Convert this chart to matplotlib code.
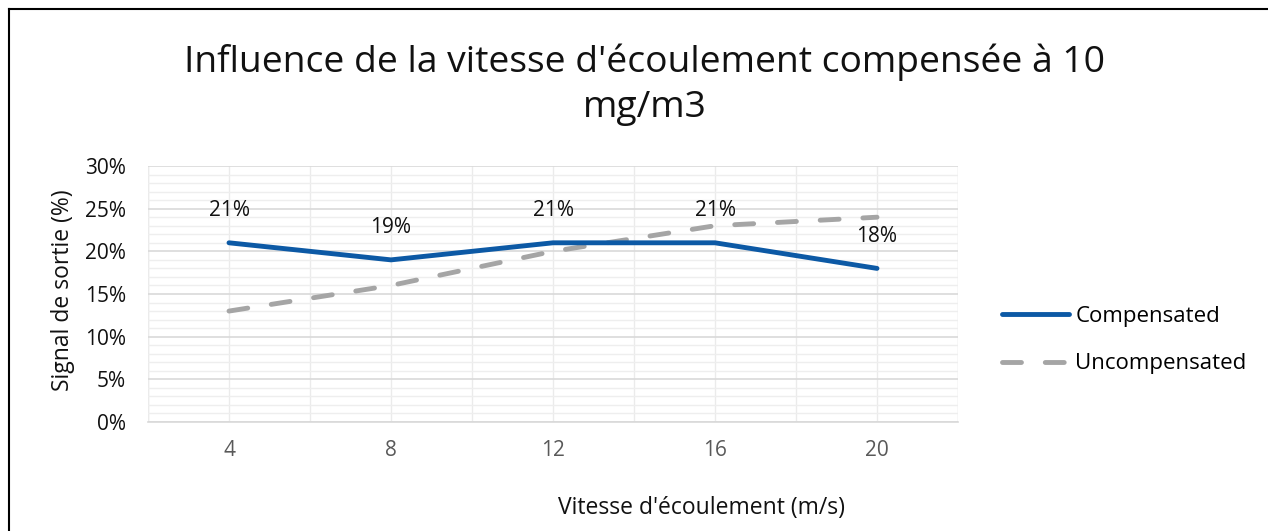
import numpy as np
import matplotlib.pyplot as plt
from matplotlib.lines import Line2D
from matplotlib.ticker import MultipleLocator, FuncFormatter

plt.rcParams['font.family'] = ['Open Sans', 'DejaVu Sans']

categories = ["4", "8", "12", "16", "20"]
compensated = [21, 19, 21, 21, 18]
uncompensated = [13, 16, 20, 23, 24]

fig = plt.figure(figsize=(12.68, 5.31), dpi=100)
ax = fig.add_axes([148/1268, 109/531, 810/1268, 256/531])

blue = "#0C59A5"
grey = "#A5A5A5"
dash = (3.9, 4.9)
lw = 3.5

x = np.arange(len(categories))
ax.plot(x, uncompensated, color=grey, lw=lw, dashes=dash,
        solid_capstyle="round", dash_capstyle="round", zorder=3)
ax.plot(x, compensated, color=blue, lw=lw, solid_capstyle="round", zorder=4)
for xi, v in zip(x, compensated):
    ax.annotate(f"{v}%", (xi, v), xytext=(0, 23), textcoords="offset points",
                ha="center", va="center", fontsize=15, color="#111111")

ax.set_xlim(-0.5, len(categories) - 0.5)
ax.set_ylim(0, 30)
ax.set_xticks(x)
ax.set_xticklabels(categories, color="#595959", fontsize=15)
ax.set_xticks(np.arange(-0.5, len(categories), 1.0), minor=True)
ax.yaxis.set_major_locator(MultipleLocator(5))
ax.yaxis.set_minor_locator(MultipleLocator(1))
ax.yaxis.set_major_formatter(FuncFormatter(lambda v, p: f"{v:.0f}%"))
ax.tick_params(axis="y", labelsize=15, colors="#111111", length=0, pad=16)
ax.tick_params(axis="x", length=0, pad=13)
ax.tick_params(which="minor", length=0)

ax.grid(True, which="major", axis="y", color="#D9D9D9", lw=1.2)
ax.grid(True, which="minor", axis="y", color="#EEEEEE", lw=1.0)
ax.grid(True, which="both", axis="x", color="#EBEBEB", lw=1.0)
ax.set_axisbelow(True)
for s in ["top", "right", "left"]:
    ax.spines[s].set_visible(False)
ax.spines["bottom"].set_color("#D9D9D9")
ax.spines["bottom"].set_linewidth(1.2)
ax.axvline(-0.5, color="#EBEBEB", lw=1.0, zorder=0)
ax.axvline(len(categories) - 0.5, color="#EBEBEB", lw=1.0, zorder=0)

fig.text(702/1268, 1 - 508/531, "Vitesse d'écoulement (m/s)", ha="center", va="center",
         fontsize=16.5, color="#111111")
fig.text(63/1268, 1 - 290/531, "Signal de sortie (%)", ha="center", va="center",
         rotation=90, fontsize=16.5, color="#111111")

fig.text(645/1268, 1 - 85/531, "Influence de la vitesse d'écoulement compensée à 10\nmg/m3",
         ha="center", va="center", fontsize=26.8, color="#111111", linespacing=1.32)

handles = [Line2D([0], [0], color=blue, lw=lw, solid_capstyle="round"),
           Line2D([0], [0], color=grey, lw=lw, dashes=dash, dash_capstyle="round")]
fig.legend(handles, ["Compensated", "Uncompensated"], loc="center left",
           bbox_to_anchor=(982/1268, 1 - 340/531), frameon=False, fontsize=16,
           handlelength=3.0, handletextpad=0.3, labelspacing=1.2)

# outer border (top and left)
fig.add_artist(Line2D([9/1268, 1], [1 - 9/531, 1 - 9/531], color="black", lw=1.5, transform=fig.transFigure))
fig.add_artist(Line2D([9/1268, 9/1268], [0, 1 - 9/531], color="black", lw=1.5, transform=fig.transFigure))

fig.savefig("out.png", dpi=100, facecolor="white")
